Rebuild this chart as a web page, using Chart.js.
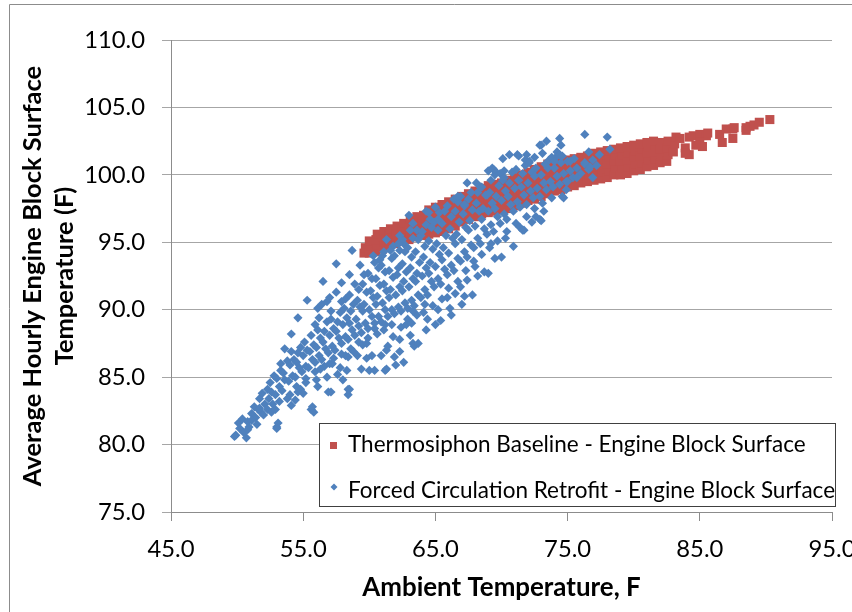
<!DOCTYPE html>
<html lang="en">
<head>
<meta charset="UTF-8">
<title>Engine Block Surface Temperature vs Ambient</title>
<script src="https://cdn.jsdelivr.net/npm/chart.js"></script>
<style>
  html, body { margin: 0; padding: 0; background: #fff; overflow: hidden; }
  #wrap { position: relative; width: 900px; height: 612px; }
</style>
</head>
<body>
<div id="wrap"><canvas id="chart" width="900" height="612"></canvas></div>
<script>
const FONT = "Lato, 'Open Sans', 'DejaVu Sans', sans-serif";

const xTicks = [45, 55, 65, 75, 85, 95];
const yTicks = [75, 80, 85, 90, 95, 100, 105, 110];
const xTitle = 'Ambient Temperature, F';
const yTitle = ['Average Hourly Engine Block Surface', 'Temperature (F)'];
const seriesNames = ['Thermosiphon Baseline - Engine Block Surface', 'Forced Circulation Retrofit - Engine Block Surface'];
const seriesColors = ['#C0504D', '#4F81BD'];

// [ambient F, engine block surface F]
const thermosiphon = [
  [59.6,94.2],[59.7,94.6],
  [60.0,94.2],[60.1,94.7],[60.0,95.1],
  [60.5,94.3],[60.6,94.8],[60.5,95.2],[60.6,95.6],
  [61.0,94.5],[61.1,95.0],[61.0,95.4],[61.1,95.8],
  [61.5,94.7],[61.6,95.1],[61.5,95.6],[61.6,96.0],
  [62.0,94.9],[62.1,95.3],[62.0,95.8],[62.1,96.2],
  [62.5,95.1],[62.6,95.5],[62.5,96.0],[62.6,96.4],
  [63.0,95.2],[63.1,95.7],[63.0,96.2],[63.1,96.7],
  [63.5,95.4],[63.6,95.9],[63.5,96.4],[63.6,96.9],
  [64.0,95.5],[64.1,96.0],[64.0,96.5],[64.1,97.0],
  [64.5,95.6],[64.6,96.1],[64.5,96.6],[64.6,97.1],[64.5,97.4],
  [65.0,95.7],[65.1,96.2],[65.0,96.7],[65.1,97.2],[65.0,97.6],
  [65.5,95.8],[65.6,96.3],[65.5,96.8],[65.6,97.3],[65.5,97.8],
  [66.0,96.0],[66.1,96.5],[66.0,97.0],[66.1,97.5],[66.0,98.0],
  [66.5,96.2],[66.6,96.7],[66.5,97.2],[66.6,97.7],[66.5,98.2],
  [67.0,96.5],[67.1,97.0],[67.0,97.5],[67.1,98.0],[67.0,98.4],
  [67.5,96.7],[67.6,97.2],[67.5,97.7],[67.6,98.2],[67.5,98.6],
  [68.0,96.9],[68.1,97.4],[68.0,97.9],[68.1,98.4],[68.0,98.8],
  [68.5,97.1],[68.6,97.6],[68.5,98.1],[68.6,98.6],[68.5,99.0],
  [69.0,97.2],[69.1,97.7],[69.0,98.2],[69.1,98.7],[69.0,99.2],
  [69.5,97.3],[69.6,97.8],[69.5,98.3],[69.6,98.8],[69.5,99.3],
  [70.0,97.4],[70.1,97.9],[70.0,98.4],[70.1,98.9],[70.0,99.4],
  [70.5,97.5],[70.6,98.0],[70.5,98.5],[70.6,99.0],[70.5,99.6],
  [71.0,97.7],[71.1,98.2],[71.0,98.7],[71.1,99.2],[71.0,99.8],
  [71.5,97.9],[71.6,98.4],[71.5,98.9],[71.6,99.4],[71.5,100.0],
  [72.0,98.1],[72.1,98.6],[72.0,99.1],[72.1,99.6],[72.0,100.2],
  [72.5,98.2],[72.6,98.7],[72.5,99.2],[72.6,99.8],[72.5,100.4],
  [73.0,98.4],[73.1,98.9],[73.0,99.4],[73.1,100.0],[73.0,100.6],
  [73.5,98.6],[73.6,99.1],[73.5,99.6],[73.6,100.2],[73.5,100.8],
  [74.0,98.8],[74.1,99.3],[74.0,99.8],[74.1,100.4],[74.0,100.9],
  [74.5,98.9],[74.6,99.4],[74.5,100.0],[74.6,100.5],[74.5,101.0],
  [75.0,99.1],[75.1,99.6],[75.0,100.1],[75.1,100.6],[75.0,101.1],
  [75.5,99.2],[75.6,99.7],[75.5,100.2],[75.6,100.7],[75.5,101.2],
  [76.0,99.4],[76.1,99.9],[76.0,100.4],[76.1,100.9],[76.0,101.3],
  [76.5,99.5],[76.6,100.0],[76.5,100.5],[76.6,101.0],[76.5,101.4],
  [77.0,99.6],[77.1,100.1],[77.0,100.6],[77.1,101.1],[77.0,101.6],
  [77.5,99.7],[77.6,100.2],[77.5,100.7],[77.6,101.2],[77.5,101.7],
  [78.0,99.8],[78.1,100.3],[78.0,100.8],[78.1,101.3],[78.0,101.8],
  [78.5,100.0],[78.6,100.5],[78.5,101.0],[78.6,101.5],[78.5,101.9],
  [79.0,100.0],[79.1,100.5],[79.0,101.0],[79.1,101.5],[79.0,102.0],
  [79.5,100.1],[79.6,100.6],[79.5,101.1],[79.6,101.6],[79.5,102.1],
  [80.0,100.3],[80.1,100.8],[80.0,101.3],[80.1,101.8],[80.0,102.2],
  [80.5,100.4],[80.6,100.9],[80.5,101.4],[80.6,101.9],[80.5,102.3],
  [81.0,100.6],[81.1,101.1],[81.0,101.6],[81.1,102.1],[81.0,102.4],
  [81.5,100.7],[81.6,101.2],[81.5,101.7],[81.6,102.2],[81.5,102.5],
  [82.0,100.9],[82.1,101.4],[82.0,101.9],[82.1,102.4],
  [82.5,101.0],[82.6,101.5],[82.5,102.0],[82.6,102.5],
  [83.0,101.7],[83.1,102.3],[83.2,102.8],
  [83.5,102.7],[83.9,102.0],[84.2,101.5],[83.9,101.6],[84.5,102.9],[84.2,102.8],
  [85.0,103.0],[85.5,102.9],[85.6,103.1],[85.0,102.4],[85.2,102.1],[84.7,102.2],
  [86.5,103.0],[86.7,102.4],[87.0,103.4],[87.5,103.4],[87.5,102.7],[87.6,103.5],
  [88.5,103.3],[88.5,103.5],[88.8,103.6],[89.1,103.7],[89.5,103.9],[90.3,104.1]
];

const forced = [
  [49.9,80.7],[50.2,81.2],[50.1,81.6],
  [50.5,80.9],[50.4,81.9],[50.8,81.7],
  [50.9,81.3],[51.1,82.3],[51.3,82.8],
  [51.4,82.0],[51.6,82.6],[51.7,83.4],
  [51.8,82.4],[52.1,83.0],[51.9,83.8],[52.3,84.1],
  [52.4,83.4],[52.6,83.9],[52.5,84.6],[52.8,85.1],
  [52.9,83.7],[53.2,84.3],[53.0,84.9],[53.3,85.5],
  [53.4,84.0],[53.6,84.8],[53.5,85.3],[53.3,86.0],[53.8,86.2],
  [53.9,84.7],[54.2,85.1],[54.0,85.9],[54.3,86.3],[54.1,86.9],
  [54.4,85.0],[54.7,85.7],[54.5,86.1],[54.6,86.8],[54.8,87.2],
  [54.9,85.4],[55.2,85.8],[55.0,86.6],[55.3,87.0],[55.1,87.6],
  [55.4,85.7],[55.7,86.3],[55.5,86.9],[55.8,87.4],[55.6,88.1],
  [55.9,86.1],[56.2,86.6],[56.0,87.2],[56.3,87.9],[56.1,88.5],
  [56.4,86.3],[56.7,87.1],[56.5,87.6],[56.6,88.4],[56.8,89.1],
  [56.9,86.8],[57.2,87.3],[57.0,88.1],[57.3,88.6],[57.1,89.3],
  [57.4,87.0],[57.7,87.9],[57.5,88.4],[57.6,89.1],[57.8,89.8],
  [57.9,87.5],[58.2,88.0],[58.0,88.9],[58.3,89.4],[58.1,90.1],[58.2,90.8],
  [58.4,87.8],[58.7,88.5],[58.5,89.0],[58.6,89.9],[58.8,90.4],[58.5,91.1],
  [58.9,88.1],[59.2,88.8],[59.0,89.3],[59.3,90.2],[59.1,90.7],[59.2,91.5],
  [59.4,88.3],[59.7,89.0],[59.5,89.9],[59.6,90.4],[59.8,91.3],[59.5,91.9],
  [59.9,88.6],[60.2,89.5],[60.0,90.0],[60.3,90.9],[60.1,91.4],[60.2,92.3],[59.9,92.7],
  [60.4,89.0],[60.7,89.5],[60.5,90.4],[60.6,91.0],[60.8,91.8],[60.5,92.3],[60.7,93.1],
  [60.9,89.1],[61.2,90.0],[61.0,90.5],[61.3,91.4],[61.1,91.9],[61.2,92.8],[60.9,93.3],
  [61.4,89.5],[61.7,90.0],[61.5,90.9],[61.6,91.5],[61.8,92.4],[61.5,92.9],[61.7,93.8],
  [61.9,89.7],[62.2,90.2],[62.0,91.1],[62.3,91.7],[62.1,92.6],[62.2,93.1],[61.9,94.0],[62.3,94.4],
  [62.4,89.9],[62.7,90.5],[62.5,91.4],[62.6,92.1],[62.8,92.8],[62.5,93.4],[62.7,94.3],[62.6,94.9],
  [62.9,90.1],[63.2,90.7],[63.0,91.7],[63.3,92.3],[63.1,93.1],[63.2,93.9],[62.9,94.6],[63.3,95.3],
  [63.4,90.3],[63.7,91.1],[63.5,92.1],[63.6,92.7],[63.8,93.5],[63.5,94.3],[63.7,95.2],[63.6,95.9],
  [63.9,90.9],[64.2,91.5],[64.0,92.5],[64.3,93.1],[64.1,93.9],[64.2,94.7],[63.9,95.5],[64.3,96.3],
  [64.4,91.1],[64.7,92.1],[64.5,92.7],[64.6,93.5],[64.8,94.5],[64.5,95.1],[64.7,96.1],[64.6,96.7],
  [64.9,91.7],[65.2,92.3],[65.0,93.2],[65.3,94.1],[65.1,94.9],[65.2,95.9],[64.9,96.5],[65.3,97.2],
  [65.4,91.9],[65.7,93.0],[65.5,93.7],[65.6,94.6],[65.8,95.5],[65.5,96.4],[65.7,97.3],
  [65.9,92.6],[66.2,93.3],[66.0,94.2],[66.3,95.3],[66.1,96.0],[66.2,96.9],[65.9,97.7],
  [66.4,92.9],[66.7,93.8],[66.5,94.9],[66.6,95.6],[66.8,96.5],[66.5,97.3],[66.7,98.0],
  [66.9,93.6],[67.2,94.3],[67.0,95.2],[67.3,96.1],[67.1,97.1],[67.2,97.7],[66.9,98.4],
  [67.4,93.9],[67.7,94.8],[67.5,95.9],[67.6,96.6],[67.8,97.4],[67.5,98.2],
  [67.9,94.6],[68.2,95.3],[68.0,96.2],[68.3,97.3],[68.1,97.9],[68.2,98.7],
  [68.4,94.9],[68.7,96.0],[68.5,96.7],[68.6,97.5],[68.8,98.5],[68.5,99.1],
  [68.9,95.6],[69.2,96.3],[69.0,97.3],[69.3,97.9],[69.1,98.7],[69.2,99.6],
  [69.4,95.8],[69.7,96.9],[69.5,97.5],[69.6,98.4],[69.8,99.2],[69.5,100.0],
  [69.9,96.4],[70.2,97.1],[70.0,98.1],[70.3,98.8],[70.1,99.6],[70.2,100.3],
  [70.4,96.7],[70.7,97.8],[70.5,98.4],[70.6,99.4],[70.8,100.2],
  [70.9,97.3],[71.2,98.0],[71.0,99.0],[71.3,99.6],[71.1,100.4],
  [71.4,97.6],[71.7,98.5],[71.5,99.1],[71.6,100.1],[71.8,100.7],
  [71.9,97.8],[72.2,98.8],[72.0,99.4],[72.3,100.2],[72.1,101.0],
  [72.4,98.3],[72.7,99.0],[72.5,99.9],[72.6,100.5],
  [72.9,98.4],[73.2,99.4],[73.0,100.0],[73.3,100.8],
  [73.4,98.9],[73.7,99.5],[73.5,100.5],[73.6,101.1],
  [73.9,99.1],[74.2,99.9],[74.0,100.5],[74.1,101.3],
  [74.4,99.3],[74.7,100.1],[74.5,100.9],
  [74.9,99.5],[75.2,100.3],[75.0,101.0],
  [75.4,99.8],[75.7,100.5],
  [76.0,100.1],[76.3,100.8],
  [76.6,100.4],[76.9,101.1],
  [77.2,100.7],
  // extra fill in the main cloud
  [55.2,84.9],[55.9,85.4],[56.6,85.8],[57.3,86.4],[57.9,86.7],[58.6,87.1],[59.2,87.6],[59.9,87.9],
  [60.6,88.2],[61.1,88.5],[61.7,88.9],[62.4,88.7],[62.9,89.3],[63.6,89.6],[64.1,89.8],[64.8,90.3],
  [65.5,90.8],[66.0,91.6],[66.7,92.1],[67.3,92.9],[67.9,93.6],[68.5,94.1],[69.1,94.6],[69.7,95.1],
  [70.4,95.8],[71.1,96.4],[71.9,96.9],[72.5,97.5],[73.1,97.9],[73.8,98.3],[53.8,83.4],[54.6,83.9],
  [52.7,83.0],[51.5,81.5],[56.2,89.4],[57.1,89.9],[57.9,90.6],[58.9,91.9],[59.6,92.6],[60.4,93.5],
  [61.0,94.0],[61.8,94.7],[62.5,95.2],
  // upper scatter
  [53.6,87.1],[54.1,88.2],[54.6,89.4],[55.3,90.7],[55.9,88.9],[56.1,90.1],[56.4,90.4],[56.5,92.1],
  [56.8,90.6],[57.0,90.9],[57.5,93.4],[57.5,91.3],[57.9,92.0],[58.5,92.6],[58.7,94.4],[59.3,93.3],
  [60.3,94.0],[60.8,93.7],[61.6,94.4],[61.3,95.2],[62.2,94.9],[62.3,95.5],[61.1,94.3],[63.1,95.9],
  [63.3,96.4],[63.0,97.0],[64.0,95.8],[64.3,97.3],[64.5,97.2],[65.2,96.7],[65.0,97.6],[66.4,98.2],
  [66.7,98.4],[67.2,97.8],[67.4,99.4],[67.7,98.7],[68.4,99.1],[68.1,99.4],[68.9,98.5],[69.0,100.3],
  [69.3,100.5],[69.4,100.4],[69.6,100.2],[69.9,100.1],[70.2,99.8],[70.1,101.2],[70.6,101.5],[71.2,101.5],
  [71.3,101.4],[71.8,101.1],[71.9,101.5],[72.1,100.9],[72.5,101.3],[72.9,102.2],[73.0,102.2],[73.1,101.6],
  [73.4,102.5],[73.8,101.3],[74.0,101.0],[74.2,101.7],[74.4,101.5],[74.4,102.7],[74.6,101.4],[74.5,102.2],
  [75.2,101.0],[75.5,101.2],[76.3,103.0],[76.3,100.9],[76.6,101.7],[76.7,100.6],[77.4,101.5],[78.0,102.8],
  [78.2,101.9],[75.7,99.8],[76.9,99.8],[74.7,98.3],[74.9,98.9],[74.6,98.4],[75.0,99.5],
  // lower scatter
  [49.8,80.6],[50.7,80.5],[50.8,81.1],[51.1,81.8],[51.7,82.7],[52.0,82.2],[52.3,82.6],[52.6,82.4],
  [52.9,82.6],[53.0,81.3],[53.1,81.6],[53.0,81.2],[53.2,83.2],[54.0,83.7],[54.1,82.9],[54.4,83.3],
  [54.5,84.3],[54.8,84.1],[55.0,83.8],[55.2,84.6],[55.6,82.6],[55.8,82.4],[55.7,82.8],[56.0,84.8],
  [56.1,84.3],[56.3,85.6],[56.8,85.0],[56.9,83.9],[57.1,83.9],[57.0,86.0],[57.2,86.0],[57.6,85.2],
  [57.8,85.7],[58.0,84.8],[58.3,85.5],[58.4,84.1],[58.4,83.7],[58.5,84.1],[58.4,86.5],[58.2,86.6],
  [58.8,86.9],[59.1,86.6],[59.4,85.6],[59.5,87.4],[59.8,86.4],[59.8,87.5],[60.0,85.5],[60.4,85.5],
  [60.2,86.6],[60.4,88.6],[60.9,86.6],[61.2,85.5],[61.3,85.6],[61.3,87.0],[61.4,87.3],[61.2,88.9],
  [61.9,86.5],[61.8,88.0],[62.3,87.8],[62.3,86.9],[62.0,85.9],[62.6,86.1],[62.8,88.9],[63.1,88.1],
  [63.3,87.5],[63.4,87.3],[63.7,87.5],[63.3,89.9],[63.2,89.0],[64.3,88.5],[64.2,90.4],[64.4,89.3],
  [65.0,88.9],[65.4,89.2],[65.2,90.0],[66.1,90.1],[66.2,89.6],[65.9,90.9],[66.5,91.2],[67.0,90.4],
  [67.2,91.0],[66.9,91.7],[67.4,92.2],[67.8,91.1],[68.2,92.5],[68.0,93.2],[68.7,92.8],[69.0,92.7],
  [69.5,93.8],[70.0,93.9],[69.2,94.9],[70.3,95.3],[70.9,94.7],[71.4,96.1],[71.7,95.9],[72.3,96.5],
  [71.6,95.9],[73.0,96.6],[73.2,97.3],[72.6,96.9],[72.9,96.7]
];

// pick font sizes so the text spans about what the picture shows
const mctx = document.createElement('canvas').getContext('2d');
function fitSize(text, weight, target) {
  mctx.font = weight + ' 100px ' + FONT;
  return Math.round(1000 * target / mctx.measureText(text).width) / 10;
}
const tickSize = fitSize('75.0', 'normal', 47);
const legendSize = fitSize(seriesNames[0], 'normal', 457);
const xTitleSize = fitSize(xTitle, 'bold', 278);
const yTitleSize = fitSize(yTitle[0], 'bold', 420);

const frame = {
  id: 'frame',
  beforeDraw(chart) {
    const c = chart.ctx;
    c.save();
    c.strokeStyle = '#8c8c8c';
    c.lineWidth = 1;
    c.beginPath();
    c.moveTo(9.5, chart.height);
    c.lineTo(9.5, 4.5);
    c.lineTo(chart.width, 4.5);
    c.stroke();
    c.restore();
  }
};

const boxLegend = {
  id: 'boxLegend',
  afterDraw(chart) {
    const c = chart.ctx;
    c.save();
    c.fillStyle = '#fff';
    c.fillRect(319.5, 423.5, 516, 83);
    c.strokeStyle = '#404040';
    c.lineWidth = 1;
    c.strokeRect(319.5, 423.5, 516, 83);
    c.fillStyle = seriesColors[0];
    c.fillRect(330, 442, 7, 7);
    c.fillStyle = seriesColors[1];
    c.beginPath();
    c.moveTo(334, 483.5);
    c.lineTo(337.5, 487);
    c.lineTo(334, 490.5);
    c.lineTo(330.5, 487);
    c.closePath();
    c.fill();
    c.fillStyle = '#000';
    c.font = legendSize + 'px ' + FONT;
    c.textBaseline = 'alphabetic';
    c.fillText(seriesNames[0], 348, 452);
    c.fillText(seriesNames[1], 348, 498);
    c.restore();
  }
};

const toXY = pts => pts.map(p => ({ x: p[0], y: p[1] }));
const fmt = v => Number(v).toFixed(1);

new Chart(document.getElementById('chart'), {
  type: 'scatter',
  data: {
    datasets: [
      {
        label: seriesNames[0],
        data: toXY(thermosiphon),
        pointStyle: 'rect',
        pointRadius: 6.4,
        backgroundColor: seriesColors[0],
        borderWidth: 0,
        order: 1
      },
      {
        label: seriesNames[1],
        data: toXY(forced),
        pointStyle: 'rectRot',
        pointRadius: 4.6,
        backgroundColor: seriesColors[1],
        borderWidth: 0,
        order: 0
      }
    ]
  },
  options: {
    responsive: false,
    animation: false,
    events: [],
    layout: { padding: { top: 40, right: 68, bottom: 0, left: 0 } },
    plugins: { legend: { display: false }, tooltip: { enabled: false } },
    scales: {
      x: {
        type: 'linear',
        min: 45,
        max: 95,
        afterBuildTicks: s => { s.ticks = xTicks.map(v => ({ value: v })); },
        afterFit: s => { s.height = 100; },
        ticks: {
          callback: fmt,
          autoSkip: false,
          maxRotation: 0,
          color: '#000',
          font: { family: FONT, size: tickSize },
          padding: 28 - tickSize * 0.6
        },
        grid: { drawOnChartArea: false, drawTicks: true, tickLength: 9, color: '#8c8c8c' },
        border: { color: '#8c8c8c' },
        title: {
          display: true,
          text: xTitle,
          color: '#000',
          font: { family: FONT, size: xTitleSize, weight: 'bold' },
          padding: { top: 0, bottom: 24 - xTitleSize * 0.6 }
        }
      },
      y: {
        min: 75,
        max: 110,
        afterBuildTicks: s => { s.ticks = yTicks.map(v => ({ value: v })); },
        afterFit: s => { s.width = 171; },
        ticks: {
          callback: fmt,
          color: '#000',
          font: { family: FONT, size: tickSize },
          padding: 17
        },
        grid: { color: '#a6a6a6', tickLength: 9 },
        border: { color: '#8c8c8c' },
        title: {
          display: true,
          text: yTitle,
          color: '#000',
          font: { family: FONT, size: yTitleSize, weight: 'bold', lineHeight: 32 / yTitleSize },
          padding: { top: 17, bottom: 0 }
        }
      }
    }
  },
  plugins: [frame, boxLegend]
});
</script>
</body>
</html>
